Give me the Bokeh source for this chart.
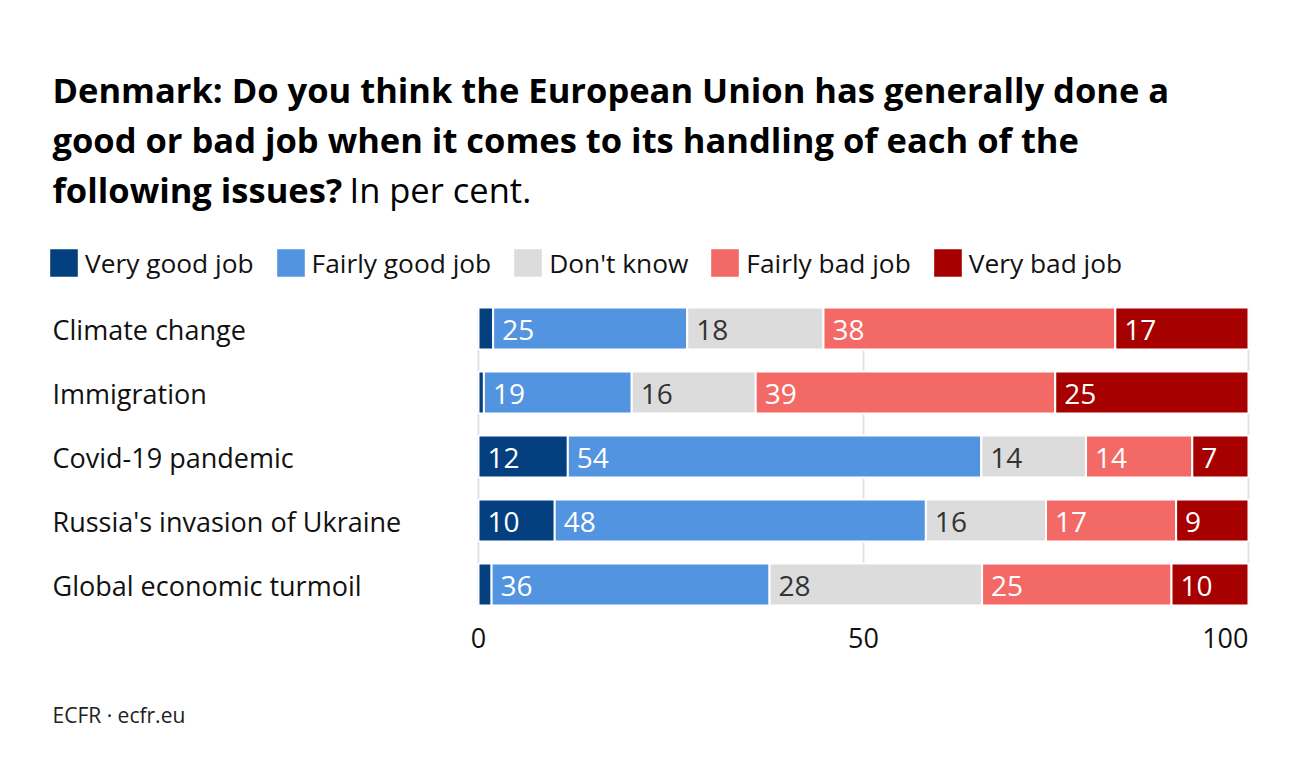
from bokeh.plotting import figure
from bokeh.models import ColumnDataSource, Range1d, Label, Legend, LegendItem
from bokeh.core.properties import value
from bokeh.embed import file_html
from bokeh.resources import INLINE

# ---------------- data ----------------
categories = ["Climate change", "Immigration", "Covid-19 pandemic",
              "Russia's invasion of Ukraine", "Global economic turmoil"]
series = ["Very good job", "Fairly good job", "Don't know", "Fairly bad job", "Very bad job"]
very_good = [1.9, 0.7, 11.6, 9.9, 1.7]
fairly_good = [25.2, 19.2, 53.7, 48.2, 36.1]
dont_know = [17.7, 16.1, 13.6, 15.6, 27.6]
fairly_bad = [37.9, 38.9, 13.8, 16.9, 24.6]
very_bad = [17.3, 25.1, 7.3, 9.4, 10.0]
x_ticks = [0, 50, 100]

title_lines = ["Denmark: Do you think the European Union has generally done a",
               "good or bad job when it comes to its handling of each of the",
               "following issues?"]
title_suffix = "In per cent."
footer = "ECFR \u00b7 ecfr.eu"

# ---------------- style ----------------
colors = ["#043f80", "#5394e0", "#dcdcdc", "#f26966", "#a60000"]
label_colors = ["#ffffff", "#ffffff", "#333333", "#ffffff", "#ffffff"]
FONT = "Open Sans"
W, H = 1300, 780
PX_PER_UNIT = 7.7      # pixels per percentage point
X0_PX = 478            # canvas x of value 0
ROW_PX = 64            # canvas distance between rows
TOP_ROW_PX = 328       # canvas y of first row centre
BAR_H = 42 / ROW_PX
MIN_LABEL = 5

n = len(categories)
ys = [n - 1 - i for i in range(n)]
y_end = (n - 1) + TOP_ROW_PX / ROW_PX
y_start = y_end - H / ROW_PX
x_start = -X0_PX / PX_PER_UNIT
x_end = (W - X0_PX) / PX_PER_UNIT


def ydata(canvas_y):
    return y_end - canvas_y / ROW_PX


p = figure(width=W, height=H, x_range=Range1d(x_start, x_end), y_range=Range1d(y_start, y_end),
           output_backend="svg", toolbar_location=None, title=None,
           x_axis_location=None, y_axis_location=None, min_border=0,
           outline_line_color=None, background_fill_color="white", border_fill_color="white")
p.grid.grid_line_color = None

# grid lines (behind bars)
p.segment(x0=x_ticks, x1=x_ticks, y0=[-BAR_H / 2] * len(x_ticks), y1=[(n - 1) + BAR_H / 2] * len(x_ticks),
          line_color="#e2e2e2", line_width=2)

keys = ["very_good", "fairly_good", "dont_know", "fairly_bad", "very_bad"]
vals = [very_good, fairly_good, dont_know, fairly_bad, very_bad]
src = ColumnDataSource(dict(y=ys, **{k: v for k, v in zip(keys, vals)}))
renderers = p.hbar_stack(keys, y="y", height=BAR_H, fill_color=colors, line_color="white",
                         line_width=2, source=src)

# value labels
lx, ly, lt, lc = [], [], [], []
for i in range(n):
    left = 0.0
    for s in range(len(keys)):
        v = vals[s][i]
        if v >= MIN_LABEL:
            lx.append(left)
            ly.append(ys[i])
            lt.append(str(int(round(v))))
            lc.append(label_colors[s])
        left += v
p.text(x="x", y="y", text="t", text_color="c",
       source=ColumnDataSource(dict(x=lx, y=ly, t=lt, c=lc)),
       x_offset=9, y_offset=1, text_align="left", text_baseline="middle",
       text_font=value(FONT), text_font_size="28px")

# category labels
p.text(x=[x_start] * n, y=ys, text=categories, x_offset=52, y_offset=1,
       text_align="left", text_baseline="middle", text_color="#111111",
       text_font=value(FONT), text_font_size="27px")

# tick labels
p.text(x=x_ticks[:-1], y=[ydata(637)] * (len(x_ticks) - 1), text=[str(t) for t in x_ticks[:-1]],
       text_align="center", text_baseline="middle", text_color="#111111",
       text_font=value(FONT), text_font_size="27px")
p.text(x=x_ticks[-1:], y=[ydata(637)], text=[str(x_ticks[-1])],
       text_align="right", text_baseline="middle", text_color="#111111",
       text_font=value(FONT), text_font_size="27px")

# legend
legend = Legend(items=[LegendItem(label=s, renderers=[r]) for s, r in zip(series, renderers)],
                orientation="horizontal", location=(45, H - 244 - 37),
                padding=0, margin=0, spacing=18, label_standoff=3,
                glyph_width=37, glyph_height=37,
                border_line_color=None, background_fill_alpha=0,
                label_text_font=FONT, label_text_font_size="26.3px", label_text_color="#111111")
p.add_layout(legend)

# title
baselines = [89, 139, 189]
for line, b in zip(title_lines, baselines):
    p.add_layout(Label(x=52, y=H - b, x_units="screen", y_units="screen", text=line,
                       text_font=FONT, text_font_style="bold", text_font_size="34.5px",
                       text_baseline="alphabetic", text_color="#000000"))
p.add_layout(Label(x=349, y=H - baselines[-1], x_units="screen", y_units="screen", text=title_suffix,
                   text_font=FONT, text_font_size="34.5px",
                   text_baseline="alphabetic", text_color="#000000"))

# footer
p.add_layout(Label(x=52, y=H - 714, x_units="screen", y_units="screen", text=footer,
                   text_font=FONT, text_font_size="21px",
                   text_baseline="alphabetic", text_color="#222222"))

open("out.html", "w").write(file_html(p, INLINE))
